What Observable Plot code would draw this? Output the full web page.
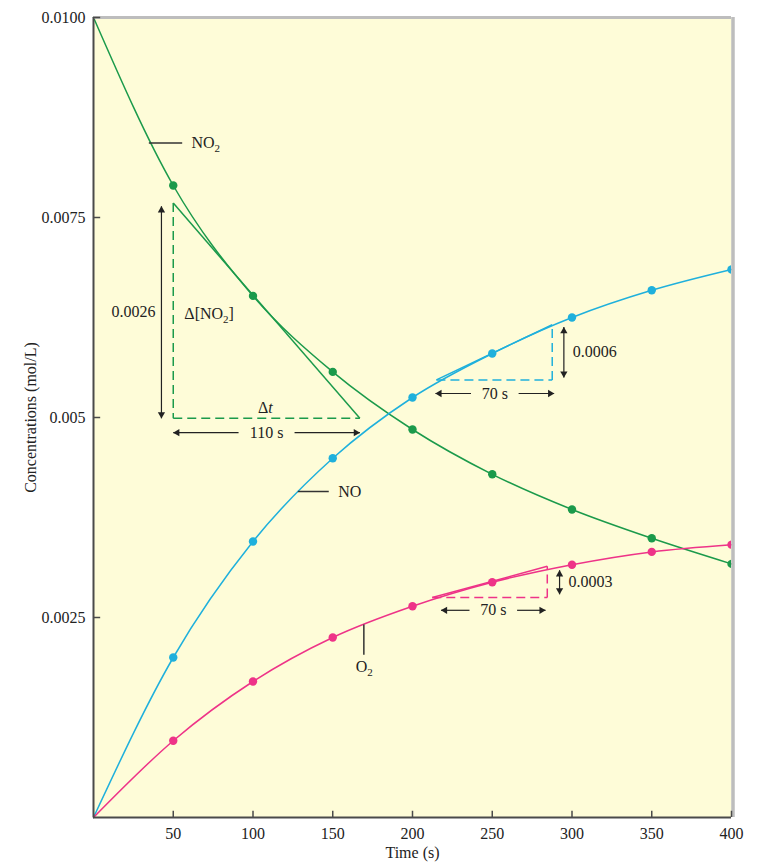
<!DOCTYPE html>
<html><head><meta charset="utf-8">
<script src="https://cdn.jsdelivr.net/npm/d3@7"></script>
<script src="https://cdn.jsdelivr.net/npm/@observablehq/plot@0.6"></script>
<style>
html,body{margin:0;padding:0;background:#fff;}
#chart svg{display:block;}
</style></head><body><div id="chart"></div>
<script>
// ---- data ----
const times = [0, 50, 100, 150, 200, 250, 300, 350, 400];
const no2 = [0.0100, 0.00790, 0.00652, 0.00557, 0.00485, 0.00429, 0.00385, 0.00349, 0.00317];
const no  = [0, 0.00200, 0.00345, 0.00449, 0.00525, 0.00580, 0.00625, 0.00659, 0.00685];
const o2  = [0, 0.00096, 0.00170, 0.00225, 0.00264, 0.00294, 0.00316, 0.00332, 0.00341];
const seriesNames = ["NO₂", "NO", "O₂"];
const seriesColors = ["#1b9a4b", "#1fb0dc", "#ee3388"];

const xTicks = [50, 100, 150, 200, 250, 300, 350, 400];
const yTicks = [0.0025, 0.005, 0.0075, 0.01];
const yTickLabels = ["0.0025", "0.005", "0.0075", "0.0100"];
const xTitle = "Time (s)";
const yTitle = "Concentrations (mol/L)";

// tangent segments (time, concentration) for each series
const tangentSeries = ["NO₂", "NO", "O₂"];
const tangentT1 = [50, 215.0, 212.4];
const tangentC1 = [0.00768, 0.00547, 0.00275];
const tangentT2 = [167, 287.6, 284.5];
const tangentC2 = [0.00499, 0.00616, 0.00314];

// vertical dimension arrows
const dimVT = [42.6, 294.9, 292.2];
const dimVFrom = [0.00764, 0.00613, 0.00309];
const dimVTo = [0.00499, 0.00550, 0.00279];
const dimVLabels = ["0.0026", "0.0006", "0.0003"];
const dimVAnchor = ["end", "start", "start"];

// horizontal dimension arrows
const dimHC = [0.00481, 0.00530, 0.00259];
const dimHT1 = [50, 214.4, 217.9];
const dimHT2 = [167, 288.8, 283.4];
const dimHLabels = ["110 s", "70 s", "70 s"];

// other annotation texts
const noteTexts = ["Δ[NO₂]", "Δt"];
const noteT = [72.5, 107.7];
const noteC = [0.0063, 0.005125];

// series labels with leader lines
const leaderT1 = [34.7, 128.1, 169.5];
const leaderC1 = [0.00843, 0.004075, 0.002413];
const leaderT2 = [55.6, 147.5, 169.5];
const leaderC2 = [0.00843, 0.004075, 0.002034];
const labelT = [61.4, 153.4, 169.8];
const labelC = [0.00843, 0.004075, 0.00188];
const labelAnchor = ["start", "start", "middle"];

// ---- build tables ----
const seriesValues = [no2, no, o2];
const rows = [];
seriesNames.forEach((s, k) => times.forEach((t, i) => rows.push({series: s, t, c: seriesValues[k][i]})));
const color = s => seriesColors[seriesNames.indexOf(s)];

const tangents = tangentSeries.map((s, i) => ({series: s, t1: tangentT1[i], c1: tangentC1[i], t2: tangentT2[i], c2: tangentC2[i]}));
const dashed = [];
tangents.forEach(d => {
  const corner = d.c1 < d.c2 ? {t: d.t2, c: d.c1} : {t: d.t1, c: d.c2};
  dashed.push({series: d.series, t1: d.t1, c1: d.c1, t2: corner.t, c2: corner.c});
  dashed.push({series: d.series, t1: corner.t, c1: corner.c, t2: d.t2, c2: d.c2});
});

const arrowSegs = [], headsUp = [], headsDown = [], headsLeft = [], headsRight = [];
const dimVText = [];
dimVT.forEach((t, i) => {
  const top = Math.max(dimVFrom[i], dimVTo[i]), bot = Math.min(dimVFrom[i], dimVTo[i]);
  arrowSegs.push({t1: t, c1: top, t2: t, c2: bot});
  headsUp.push({t, c: top});
  headsDown.push({t, c: bot});
  dimVText.push({t, c: (top + bot) / 2, label: dimVLabels[i], anchor: dimVAnchor[i]});
});
const dimHText = [];
dimHC.forEach((c, i) => {
  const mid = (dimHT1[i] + dimHT2[i]) / 2;
  const gap = (dimHLabels[i].length * 4.2 + 7) / 1.595;
  arrowSegs.push({t1: dimHT1[i], c1: c, t2: mid - gap, c2: c});
  arrowSegs.push({t1: mid + gap, c1: c, t2: dimHT2[i], c2: c});
  headsLeft.push({t: dimHT1[i], c});
  headsRight.push({t: dimHT2[i], c});
  dimHText.push({t: mid, c, label: dimHLabels[i]});
});
const notes = noteTexts.map((s, i) => ({label: s, t: noteT[i], c: noteC[i]}));
const leaders = seriesNames.map((s, i) => ({t1: leaderT1[i], c1: leaderC1[i], t2: leaderT2[i], c2: leaderC2[i]}));
const seriesLabels = seriesNames.map((s, i) => ({label: s, t: labelT[i], c: labelC[i], anchor: labelAnchor[i]}));

const ink = "#222";
const headR = 2.7, headOff = 4;

const chart = Plot.plot({
  width: 762, height: 866,
  marginLeft: 93, marginRight: 31, marginTop: 17, marginBottom: 49,
  x: {domain: [0, 400]},
  y: {domain: [0, 0.01]},
  style: {fontFamily: "'Liberation Serif', 'DejaVu Serif', serif", fontSize: "16px", background: "#fff", color: ink},
  marks: [
    Plot.frame({fill: "#fefcd8", stroke: "none"}),
    // tangent lines and dashed legs
    Plot.link(tangents, {x1: "t1", y1: "c1", x2: "t2", y2: "c2", stroke: d => color(d.series), strokeWidth: 1.5}),
    Plot.link(dashed, {x1: "t1", y1: "c1", x2: "t2", y2: "c2", stroke: d => color(d.series), strokeWidth: 1.5, strokeDasharray: "9,5"}),
    // series curves
    Plot.line(rows, {x: "t", y: "c", z: "series", stroke: d => color(d.series), strokeWidth: 1.5, curve: "monotone-x"}),
    Plot.dot(rows.filter(d => d.t > 0), {x: "t", y: "c", r: 4.2, fill: d => color(d.series), stroke: "none", clip: true}),
    // frame borders
    Plot.ruleY([0.01], {stroke: "#bdbdbd", strokeWidth: 3, dy: 0}),
    Plot.ruleX([400], {stroke: "#bdbdbd", strokeWidth: 3.5, dx: 1.5, y1: 0, y2: 0.01}),
    Plot.ruleX([0], {stroke: "#4a4a4a", strokeWidth: 2}),
    Plot.ruleY([0], {stroke: "#4a4a4a", strokeWidth: 2}),
    // inward ticks
    Plot.ruleY(yTicks, {x1: 0, x2: 4.5, stroke: "#4a4a4a", strokeWidth: 1.5}),
    Plot.ruleX(xTicks, {y1: 0, y2: 0.000078, stroke: "#4a4a4a", strokeWidth: 1.5}),
    // axes labels
    Plot.axisY({ticks: yTicks, tickFormat: d => yTickLabels[yTicks.indexOf(d)], tickSize: 0, tickPadding: 8, label: null, fontSize: 16}),
    Plot.axisX({ticks: xTicks, tickSize: 0, tickPadding: 10, label: null, fontSize: 16}),
    Plot.text([yTitle], {frameAnchor: "left", textAnchor: "middle", rotate: -90, dx: -63, fontSize: 16, fill: ink}),
    Plot.text([xTitle], {frameAnchor: "bottom", dy: 40, fontSize: 16, fill: ink}),
    // dimension arrows
    Plot.link(arrowSegs, {x1: "t1", y1: "c1", x2: "t2", y2: "c2", stroke: ink, strokeWidth: 1.2}),
    Plot.dot(headsUp, {x: "t", y: "c", symbol: "triangle", rotate: 0, r: headR, dy: headOff, fill: ink, stroke: "none"}),
    Plot.dot(headsDown, {x: "t", y: "c", symbol: "triangle", rotate: 180, r: headR, dy: -headOff, fill: ink, stroke: "none"}),
    Plot.dot(headsLeft, {x: "t", y: "c", symbol: "triangle", rotate: -90, r: headR, dx: headOff, fill: ink, stroke: "none"}),
    Plot.dot(headsRight, {x: "t", y: "c", symbol: "triangle", rotate: 90, r: headR, dx: -headOff, fill: ink, stroke: "none"}),
    Plot.text(dimVText.filter(d => d.anchor === "end"), {x: "t", y: "c", text: "label", textAnchor: "end", dx: -6, fontSize: 16, fill: ink}),
    Plot.text(dimVText.filter(d => d.anchor === "start"), {x: "t", y: "c", text: "label", textAnchor: "start", dx: 9, fontSize: 16, fill: ink}),
    Plot.text(dimHText, {x: "t", y: "c", text: "label", fontSize: 16, fill: ink}),
    Plot.text(notes, {x: "t", y: "c", text: "label", fontSize: 16, fill: ink}),
    // series labels
    Plot.link(leaders, {x1: "t1", y1: "c1", x2: "t2", y2: "c2", stroke: "#333", strokeWidth: 1.5}),
    Plot.text(seriesLabels.filter(d => d.anchor === "start"), {x: "t", y: "c", text: "label", textAnchor: "start", fontSize: 16, fill: ink}),
    Plot.text(seriesLabels.filter(d => d.anchor === "middle"), {x: "t", y: "c", text: "label", textAnchor: "middle", fontSize: 16, fill: ink})
  ]
});

// subscripts and italics as real tspans
chart.querySelectorAll("text").forEach(el => {
  const s = el.textContent;
  if (!s.includes("₂") && s !== "Δt") return;
  if (el.querySelector("tspan")) return;
  const ns = "http://www.w3.org/2000/svg";
  el.textContent = "";
  if (s === "Δt") {
    el.appendChild(document.createTextNode("Δ"));
    const ts = document.createElementNS(ns, "tspan");
    ts.setAttribute("font-style", "italic");
    ts.textContent = "t";
    el.appendChild(ts);
    return;
  }
  const parts = s.split("₂");
  parts.forEach((p, i) => {
    if (i > 0) {
      const sub = document.createElementNS(ns, "tspan");
      sub.setAttribute("dy", "4");
      sub.setAttribute("font-size", "11");
      sub.textContent = "2";
      el.appendChild(sub);
      const back = document.createElementNS(ns, "tspan");
      back.setAttribute("dy", "-4");
      back.textContent = p;
      el.appendChild(back);
    } else {
      el.appendChild(document.createTextNode(p));
    }
  });
});

document.getElementById("chart").appendChild(chart);
</script></body></html>
